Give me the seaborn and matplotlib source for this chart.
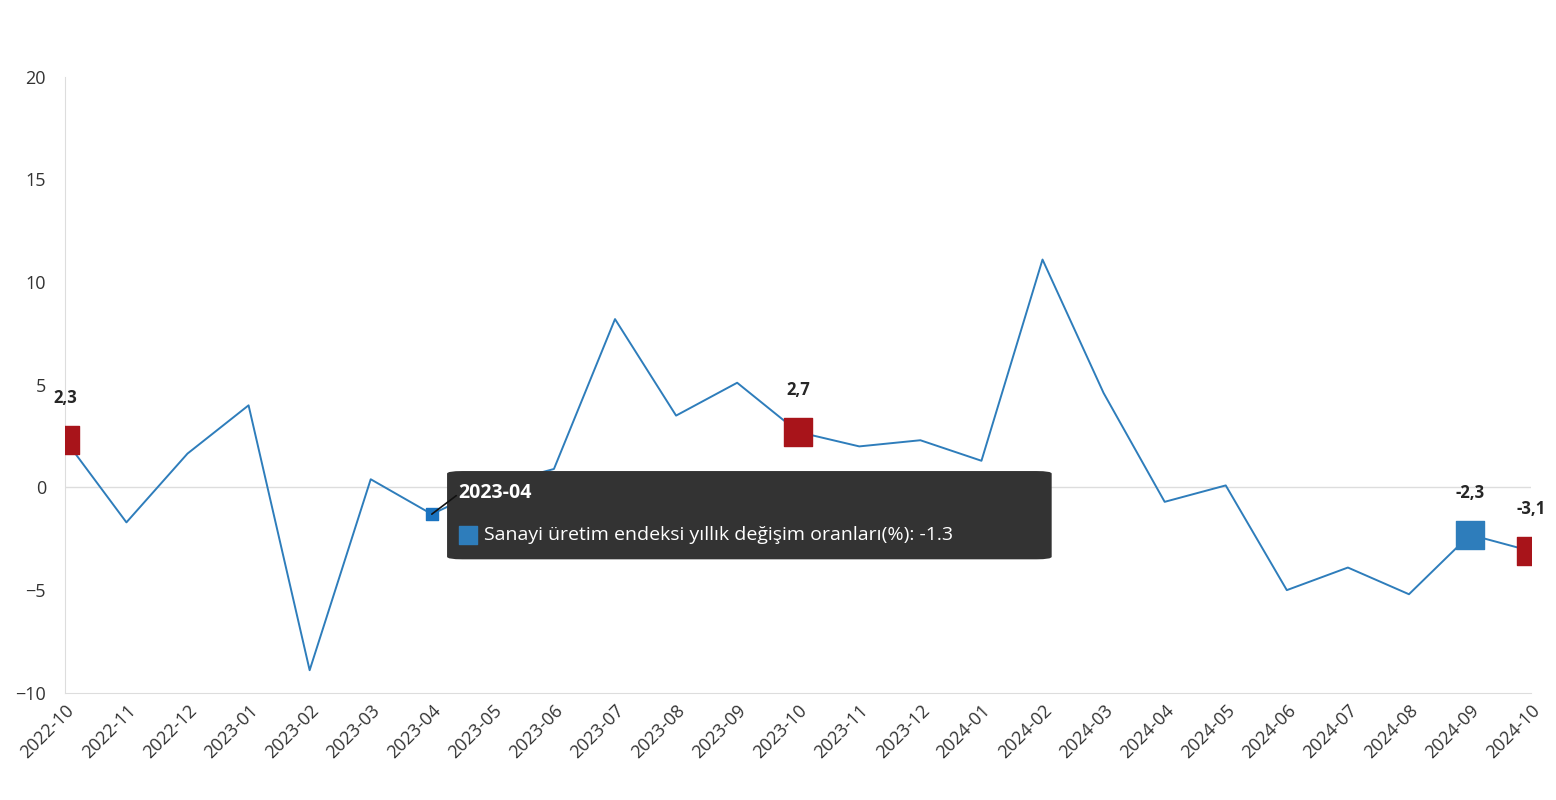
import seaborn as sns
import matplotlib.pyplot as plt
from matplotlib.patches import FancyBboxPatch
import pandas as pd

months = ['2022-10', '2022-11', '2022-12', '2023-01', '2023-02', '2023-03', '2023-04', '2023-05',
          '2023-06', '2023-07', '2023-08', '2023-09', '2023-10', '2023-11', '2023-12', '2024-01',
          '2024-02', '2024-03', '2024-04', '2024-05', '2024-06', '2024-07', '2024-08', '2024-09', '2024-10']
values = [2.3, -1.7, 1.65, 4.0, -8.9, 0.4, -1.3, 0.1, 0.9, 8.2, 3.5, 5.1, 2.7, 2.0, 2.3, 1.3,
          11.1, 4.6, -0.7, 0.1, -5.0, -3.9, -5.2, -2.3, -3.1]
red_marks = ['2022-10', '2023-10', '2024-10']
blue_marks = ['2024-09']
labels = {'2022-10': '2,3', '2023-10': '2,7', '2024-09': '-2,3', '2024-10': '-3,1'}

df = pd.DataFrame({'month': months, 'value': values})
df['x'] = range(len(df))

sns.set_style('white')
plt.rcParams['font.family'] = ['Open Sans', 'DejaVu Sans']
fig = plt.figure(figsize=(15.56, 8), dpi=100)
ax = fig.add_axes([0.042, 0.134, 0.942, 0.77])

sns.lineplot(data=df, x='x', y='value', color='#2e7dbb', linewidth=1.4, ax=ax)
ax.axhline(0, color='#dddddd', linewidth=1, zorder=0)

for m, c in [(red_marks, '#a8141a'), (blue_marks, '#2e7dbb')]:
    sub = df[df['month'].isin(m)]
    ax.scatter(sub['x'], sub['value'], marker='s', s=380, color=c, zorder=5)
for m, t in labels.items():
    r = df[df['month'] == m].iloc[0]
    ax.text(r['x'], r['value'] + 1.8, t, ha='center', fontsize=12, fontweight='bold')

# tooltip at 2023-04
r = df[df['month'] == '2023-04'].iloc[0]
ax.scatter([r['x']], [r['value']], marker='s', s=70, color='#1a73c0', zorder=6)
box = FancyBboxPatch((6.25, -3.5), 9.9, 4.3, boxstyle='round,pad=0,rounding_size=0.25',
                     mutation_aspect=0.5, facecolor='#333333', edgecolor='none', zorder=7)
ax.add_patch(box)
ax.plot([r['x'], 6.4], [r['value'], -0.4], color='#111111', linewidth=1.2, zorder=7)
ax.text(6.43, -0.25, '2023-04', color='white', fontsize=14, fontweight='bold', zorder=8, va='center')
ax.scatter([6.6], [-2.3], marker='s', s=150, color='#2e7dbb', zorder=8)
ax.text(6.85, -2.3, 'Sanayi üretim endeksi yıllık değişim oranları(%): -1.3', color='white',
        fontsize=14, zorder=8, va='center')

ax.set_xlim(0, len(months) - 1)
ax.set_ylim(-10, 20)
ax.set_yticks([-10, -5, 0, 5, 10, 15, 20])
ax.set_xticks(df['x'])
ax.set_xticklabels(months, rotation=45, ha='right', rotation_mode='anchor', fontsize=13, color='#333333')
ax.tick_params(axis='y', labelsize=13, labelcolor='#333333', length=0, pad=14)
ax.tick_params(axis='x', length=0, pad=6)
ax.set_xlabel('')
ax.set_ylabel('')
for s in ['top', 'right']:
    ax.spines[s].set_visible(False)
for s in ['left', 'bottom']:
    ax.spines[s].set_color('#dddddd')
for lbl in ax.get_yticklabels():
    lbl.set_horizontalalignment('right')
fig.savefig('out.png', dpi=100)
